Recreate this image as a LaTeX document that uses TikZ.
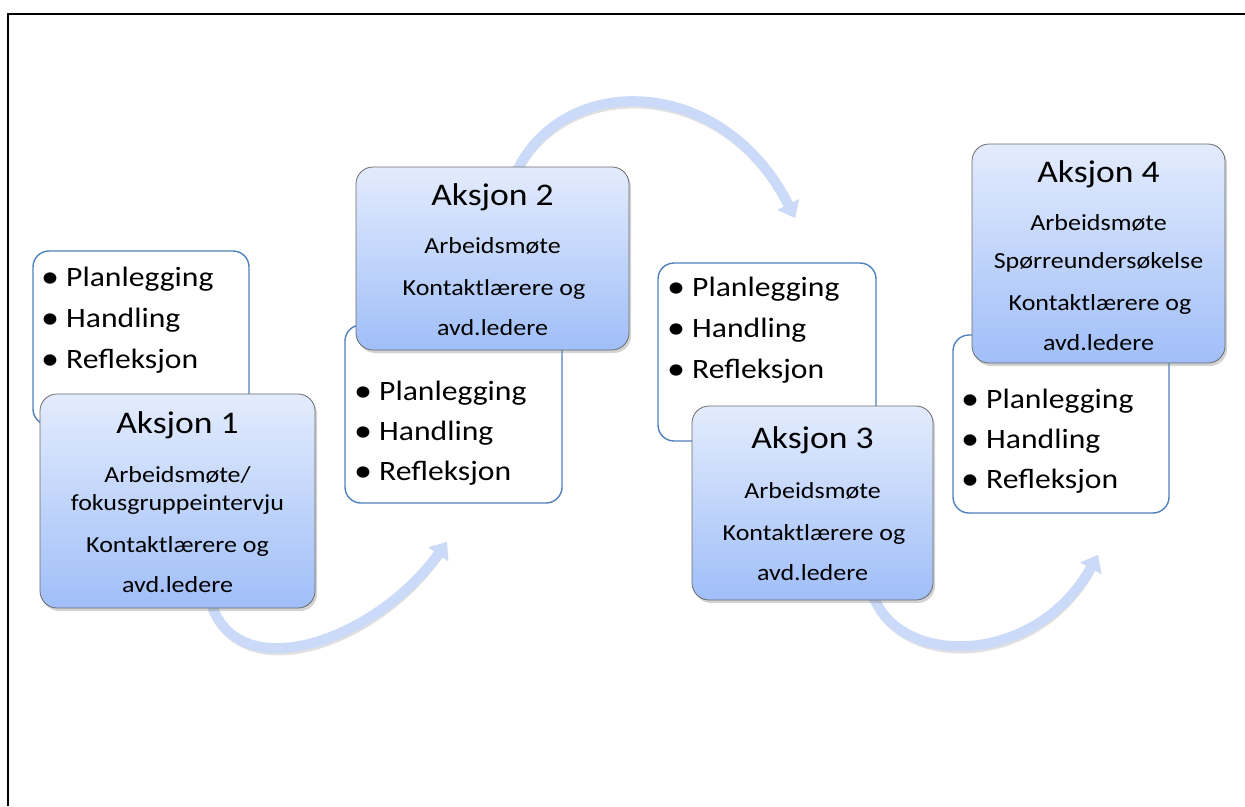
\documentclass[tikz,border=0pt]{standalone}
\usepackage{fontspec}
\setmainfont{Carlito}[FakeStretch=1.13]
\usetikzlibrary{arrows.meta,shadows}
\definecolor{boxtop}{HTML}{E3ECFD}
\definecolor{boxbot}{HTML}{A0BEF8}
\definecolor{bluedge}{HTML}{4F81BD}
\definecolor{arrowblue}{HTML}{CADAF8}
\definecolor{edgegray}{HTML}{6A6A6A}
\newcommand{\bul}{\makebox[21pt][l]{\hspace{-4pt}\raisebox{-1.5pt}{\fontsize{32}{32}\selectfont •}}}
\begin{document}
\begin{tikzpicture}[x=1pt,y=-1pt,
  bluebox/.style={rounded corners=17pt, draw=edgegray, line width=0.8pt,
    top color=boxtop, bottom color=boxbot, inner sep=0pt,
    drop shadow={shadow xshift=2pt, shadow yshift=-3pt, opacity=0.35}},
  whitebox/.style={rounded corners=16pt, draw=bluedge, line width=1.4pt, fill=white, inner sep=0pt},
  titletext/.style={font=\fontsize{31.5}{36}\selectfont, anchor=base, inner sep=0pt},
  subtext/.style={font=\fontsize{23}{27}\selectfont, anchor=base, inner sep=0pt},
  bullettext/.style={font=\fontsize{28}{33}\selectfont, anchor=base west, inner sep=0pt},
  flowarrow/.style={line width=10pt, draw=arrowblue, -{Triangle[width=23pt,length=15pt]}},
  flowshadow/.style={line width=10pt, draw=black, opacity=0.12, -{Triangle[width=23pt,length=15pt]}},
]
\useasboundingbox (0,0) rectangle (1245,806);
% frame
\draw[line width=2.5pt] (8.2,806) -- (8.2,14.2) -- (1245,14.2);

% arrow coordinates
\coordinate (a1s) at (210,600);
\coordinate (a1e) at (447,542);
\coordinate (a2s) at (515,175);
\coordinate (a2e) at (795,218);
\coordinate (a3s) at (872,592);
\coordinate (a3e) at (1098,555);

% arrows (shadows then arrows)
\begin{scope}[shift={(1.5,3)}]
\draw[flowshadow] (a1s) .. controls (235,690) and (375,642) .. (a1e);
\draw[flowshadow] (a2s) .. controls (560,72) and (722,72) .. (a2e);
\draw[flowshadow] (a3s) .. controls (895,668) and (1035,668) .. (a3e);
\end{scope}
\draw[flowarrow] (a1s) .. controls (235,690) and (375,642) .. (a1e);
\draw[flowarrow] (a2s) .. controls (560,72) and (722,72) .. (a2e);
\draw[flowarrow] (a3s) .. controls (895,668) and (1035,668) .. (a3e);

% ---------- group 1
\node[whitebox, minimum width=216pt, minimum height=174pt] (w1) at (141,338) {};
\node[bullettext] (w1a) at (45,286) {\bul Planlegging};
\node[bullettext] (w1b) at (45,327) {\bul Handling};
\node[bullettext] (w1c) at (45,368) {\bul Refleksjon};
\node[bluebox, minimum width=275pt, minimum height=214pt] (b1) at (177.5,501) {};
\node[titletext] (b1t) at (177.5,433) {Aksjon 1};
\node[subtext] (b1a) at (177.5,482) {Arbeidsmøte/};
\node[subtext] (b1b) at (177.5,510) {fokusgruppeintervju};
\node[subtext] (b1c) at (177.5,552) {Kontaktlærere og};
\node[subtext] (b1d) at (177.5,592) {avd.ledere};

% ---------- group 2
\node[whitebox, minimum width=217pt, minimum height=178pt] (w2) at (453.5,414) {};
\node[bullettext] (w2a) at (358,400) {\bul Planlegging};
\node[bullettext] (w2b) at (358,440) {\bul Handling};
\node[bullettext] (w2c) at (358,480) {\bul Refleksjon};
\node[bluebox, minimum width=273pt, minimum height=183pt] (b2) at (492.5,258.5) {};
\node[titletext] (b2t) at (492.5,205) {Aksjon 2};
\node[subtext] (b2a) at (492.5,253) {Arbeidsmøte};
\node[subtext] (b2b) at (494,295) {Kontaktlærere og};
\node[subtext] (b2c) at (492.5,335) {avd.ledere};

% ---------- group 3
\node[whitebox, minimum width=218pt, minimum height=178pt] (w3) at (767,352) {};
\node[bullettext] (w3a) at (671,296) {\bul Planlegging};
\node[bullettext] (w3b) at (671,337) {\bul Handling};
\node[bullettext] (w3c) at (671,378) {\bul Refleksjon};
\node[bluebox, minimum width=241pt, minimum height=194pt] (b3) at (812.5,503) {};
\node[titletext] (b3t) at (812.5,448) {Aksjon 3};
\node[subtext] (b3a) at (812.5,498) {Arbeidsmøte};
\node[subtext] (b3b) at (814,540) {Kontaktlærere og};
\node[subtext] (b3c) at (812.5,580) {avd.ledere};

% ---------- group 4
\node[whitebox, minimum width=216pt, minimum height=178pt] (w4) at (1061,424) {};
\node[bullettext] (w4a) at (965,408) {\bul Planlegging};
\node[bullettext] (w4b) at (965,448) {\bul Handling};
\node[bullettext] (w4c) at (965,488) {\bul Refleksjon};
\node[bluebox, minimum width=253pt, minimum height=219pt] (b4) at (1098.5,253.5) {};
\node[titletext] (b4t) at (1098.5,182) {Aksjon 4};
\node[subtext] (b4a) at (1098.5,230) {Arbeidsmøte};
\node[subtext] (b4b) at (1098.5,268) {Spørreundersøkelse};
\node[subtext] (b4c) at (1100,310) {Kontaktlærere og};
\node[subtext] (b4d) at (1098.5,350) {avd.ledere};
\end{tikzpicture}
\end{document}
